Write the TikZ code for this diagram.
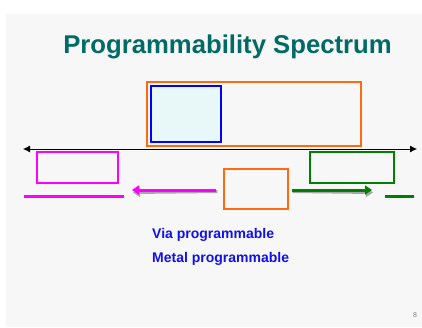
\documentclass[tikz,border=0pt]{standalone}
\usepackage{fontspec}
\setmainfont{Liberation Sans}
\usepackage{xcolor}
\usetikzlibrary{arrows.meta,positioning,calc}

\definecolor{slidebg}{HTML}{F7F7F7}
\definecolor{titleteal}{HTML}{006A66}
\definecolor{boxorange}{HTML}{FF6A10}
\definecolor{boxmagenta}{HTML}{FF00FF}
\definecolor{boxgreen}{HTML}{008000}
\definecolor{boxblue}{HTML}{0000FF}
\definecolor{paleCyan}{HTML}{E8F8F8}
\definecolor{labelblue}{HTML}{1010EE}

\tikzset{
  box/.style={draw,inner sep=0pt,line width=1.2pt},
  bar/.style={line width=3pt},
  fatarrow/.style={line width=3pt,-{Triangle[length=7pt,width=9pt]}},
  label/.style={font=\fontsize{14}{16}\selectfont\bfseries,text=labelblue,anchor=west,inner sep=0pt}
}

\begin{document}
\begin{tikzpicture}[x=1pt,y=-1pt]
    \useasboundingbox (0,0) rectangle (422,327);
    \fill[slidebg] (6,14) rectangle (422,327);

    \node[font=\fontsize{25.7}{28}\selectfont\bfseries,text=titleteal,anchor=base] (title) at (227.5,53) {Programmability Spectrum};

    % upper boxes
    \node[box,draw=boxorange,minimum width=214pt,minimum height=64pt] (wide) at (254,114) {};
    \node[box,draw=boxblue,fill=paleCyan,minimum width=70pt,minimum height=56pt] (cell) at (186,114) {};

    % the spectrum axis
    \coordinate (axL) at (23,149);
    \coordinate (axR) at (417,149);
    \draw[line width=0.8pt,{Latex[length=7pt,width=7pt]}-{Latex[length=7pt,width=7pt]}] (axL) -- (axR);

    % left end
    \node[box,draw=boxmagenta,minimum width=81pt,minimum height=31pt] (leftbox) at (77.5,167.5) {};
    \coordinate (lbarA) at (24,196);
    \coordinate (lbarB) at (124,196);
    \draw[bar,boxmagenta] (lbarA) -- (lbarB);

    % right end
    \node[box,draw=boxgreen,minimum width=84pt,minimum height=31pt] (rightbox) at (352,167.5) {};
    \coordinate (rbarA) at (385,196);
    \coordinate (rbarB) at (414,196);
    \draw[bar,boxgreen] (rbarA) -- (rbarB);

    % middle box and the arrows out of it
    \node[box,draw=boxorange,minimum width=64pt,minimum height=40pt] (mid) at (256,189) {};
    \coordinate (magTip) at (132,190);
    \coordinate (grnTip) at (372,190);
    \draw[fatarrow,gray!70] ($(mid.west)+(-6,2.5)$) -- ($(magTip)+(1,2.5)$);
    \draw[fatarrow,boxmagenta] ($(mid.west)+(-7,1)$) -- (magTip);
    \draw[fatarrow,gray!70] ($(mid.east)+(4,2.5)$) -- ($(grnTip)+(1,2.5)$);
    \draw[fatarrow,boxgreen] ($(mid.east)+(3,1)$) -- (grnTip);

    \node[label] (via) at (152,235) {Via programmable};
    \node[label] (metal) at (152,259) {Metal programmable};

    \node[font=\fontsize{7}{8}\selectfont,text=gray] (pageno) at (415,315) {8};
\end{tikzpicture}
\end{document}
